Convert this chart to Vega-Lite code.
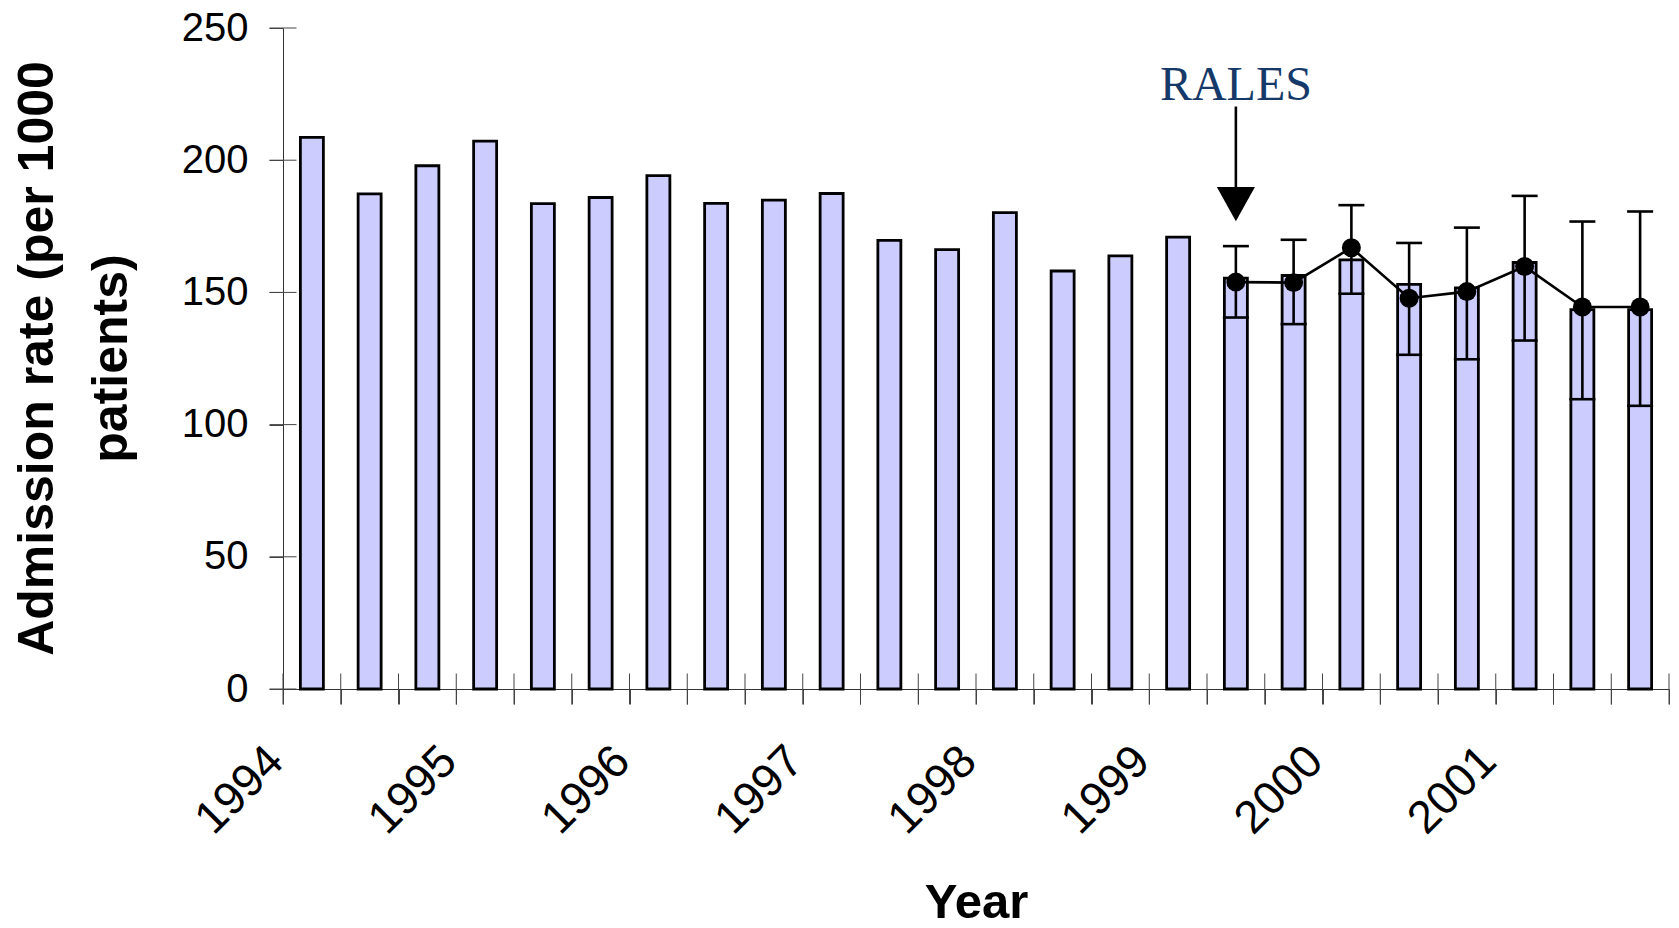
{
  "$schema": "https://vega.github.io/schema/vega-lite/v6.json",
  "width": 1386,
  "height": 661,
  "autosize": {"type": "none"},
  "padding": {"left": 283, "top": 28, "right": 10, "bottom": 239},
  "background": "#ffffff",
  "config": {"view": {"stroke": null}, "font": "Liberation Sans"},
  "datasets": {
    "rates": [
      {"t": 1994.1667, "rate": 208.6},
      {"t": 1994.5, "rate": 187.3},
      {"t": 1994.8333, "rate": 197.9},
      {"t": 1995.1667, "rate": 207.2},
      {"t": 1995.5, "rate": 183.6},
      {"t": 1995.8333, "rate": 185.9},
      {"t": 1996.1667, "rate": 194.2},
      {"t": 1996.5, "rate": 183.7},
      {"t": 1996.8333, "rate": 184.9},
      {"t": 1997.1667, "rate": 187.4},
      {"t": 1997.5, "rate": 169.7},
      {"t": 1997.8333, "rate": 166.2},
      {"t": 1998.1667, "rate": 180.2},
      {"t": 1998.5, "rate": 158.1},
      {"t": 1998.8333, "rate": 163.8},
      {"t": 1999.1667, "rate": 170.9},
      {"t": 1999.5, "rate": 155.4},
      {"t": 1999.8333, "rate": 156.4},
      {"t": 2000.1667, "rate": 162.3},
      {"t": 2000.5, "rate": 153.0},
      {"t": 2000.8333, "rate": 151.7},
      {"t": 2001.1667, "rate": 161.3},
      {"t": 2001.5, "rate": 143.5},
      {"t": 2001.8333, "rate": 143.5}
    ],
    "model": [
      {"t": 1999.5, "est": 153.9, "lo": 140.5, "hi": 167.5},
      {"t": 1999.8333, "est": 153.7, "lo": 138.0, "hi": 169.9},
      {"t": 2000.1667, "est": 166.9, "lo": 149.5, "hi": 183.0},
      {"t": 2000.5, "est": 147.8, "lo": 126.4, "hi": 168.7},
      {"t": 2000.8333, "est": 150.3, "lo": 124.7, "hi": 174.5},
      {"t": 2001.1667, "est": 159.8, "lo": 131.8, "hi": 186.5},
      {"t": 2001.5, "est": 144.5, "lo": 109.6, "hi": 176.8},
      {"t": 2001.8333, "est": 144.5, "lo": 107.1, "hi": 180.6}
    ],
    "yticks": [{"v": 0}, {"v": 50}, {"v": 100}, {"v": 150}, {"v": 200}, {"v": 250}],
    "xticks": [
      {"v": 1994}, {"v": 1994.3333}, {"v": 1994.6667},
      {"v": 1995}, {"v": 1995.3333}, {"v": 1995.6667},
      {"v": 1996}, {"v": 1996.3333}, {"v": 1996.6667},
      {"v": 1997}, {"v": 1997.3333}, {"v": 1997.6667},
      {"v": 1998}, {"v": 1998.3333}, {"v": 1998.6667},
      {"v": 1999}, {"v": 1999.3333}, {"v": 1999.6667},
      {"v": 2000}, {"v": 2000.3333}, {"v": 2000.6667},
      {"v": 2001}, {"v": 2001.3333}, {"v": 2001.6667},
      {"v": 2002}
    ],
    "note": [{"label": "RALES", "t": 1999.5}]
  },
  "layer": [
    {
      "data": {"name": "rates"},
      "mark": {"type": "bar", "orient": "vertical", "width": 23, "fill": "#CCCCFF", "stroke": "#000000", "strokeWidth": 2.8},
      "encoding": {
        "x": {
          "field": "t", "type": "quantitative",
          "scale": {"domain": [1994, 2002], "nice": false, "zero": false, "padding": 0},
          "axis": {
            "values": [1994, 1994.3333, 1994.6667, 1995, 1995.3333, 1995.6667, 1996, 1996.3333, 1996.6667, 1997, 1997.3333, 1997.6667, 1998, 1998.3333, 1998.6667, 1999, 1999.3333, 1999.6667, 2000, 2000.3333, 2000.6667, 2001, 2001.3333, 2001.6667, 2002],
            "labelExpr": "abs(datum.value - round(datum.value)) < 0.01 && datum.value < 2001.5 ? '' + round(datum.value) : ''",
            "labelOverlap": false,
            "labelFlush": false,
            "labelAngle": -45,
            "labelAlign": "right",
            "labelBaseline": "top",
            "labelFontSize": 46,
            "labelColor": "#000000",
            "labelPadding": 34,
            "labelOffset": -23,
            "tickSize": 15,
            "tickColor": "#444444",
            "tickWidth": 1,
            "domainColor": "#333333",
            "domainWidth": 1,
            "grid": false,
            "title": "Year",
            "titleFontSize": 49,
            "titleFontWeight": "bold",
            "titleColor": "#000000",
            "titleX": 693,
            "titleY": 228,
            "titleAlign": "center",
            "titleBaseline": "alphabetic"
          }
        },
        "y": {
          "field": "rate", "type": "quantitative",
          "scale": {"domain": [0, 250], "nice": false},
          "axis": {
            "values": [0, 50, 100, 150, 200, 250],
            "labelFontSize": 40,
            "labelColor": "#000000",
            "labelPadding": 21,
            "tickSize": 14,
            "tickColor": "#444444",
            "tickWidth": 1,
            "domainColor": "#333333",
            "domainWidth": 1,
            "grid": false,
            "title": ["Admission rate (per 1000", "patients)"],
            "titleFontSize": 50,
            "titleFontWeight": "bold",
            "titleColor": "#000000",
            "titleAngle": -90,
            "titleX": -231,
            "titleY": 330,
            "titleAlign": "center",
            "titleBaseline": "alphabetic",
            "titleLineHeight": 74
          }
        }
      }
    },
    {
      "data": {"name": "xticks"},
      "mark": {"type": "tick", "orient": "vertical", "size": 31, "thickness": 1, "color": "#444444", "opacity": 1},
      "encoding": {
        "x": {"field": "v", "type": "quantitative"},
        "y": {"datum": 0, "type": "quantitative"}
      }
    },
    {
      "data": {"name": "yticks"},
      "mark": {"type": "tick", "orient": "horizontal", "size": 27, "thickness": 1, "color": "#444444", "opacity": 1},
      "encoding": {
        "x": {"datum": 1994, "type": "quantitative"},
        "y": {"field": "v", "type": "quantitative"}
      }
    },
    {
      "data": {"name": "model"},
      "mark": {"type": "rule", "color": "#000000", "strokeWidth": 2.6},
      "encoding": {
        "x": {"field": "t", "type": "quantitative"},
        "y": {"field": "lo", "type": "quantitative"},
        "y2": {"field": "hi"}
      }
    },
    {
      "data": {"name": "model"},
      "mark": {"type": "tick", "orient": "horizontal", "size": 26, "thickness": 2.6, "color": "#000000", "opacity": 1},
      "encoding": {
        "x": {"field": "t", "type": "quantitative"},
        "y": {"field": "lo", "type": "quantitative"}
      }
    },
    {
      "data": {"name": "model"},
      "mark": {"type": "tick", "orient": "horizontal", "size": 26, "thickness": 2.6, "color": "#000000", "opacity": 1},
      "encoding": {
        "x": {"field": "t", "type": "quantitative"},
        "y": {"field": "hi", "type": "quantitative"}
      }
    },
    {
      "data": {"name": "model"},
      "mark": {"type": "line", "color": "#000000", "strokeWidth": 2.6},
      "encoding": {
        "x": {"field": "t", "type": "quantitative"},
        "y": {"field": "est", "type": "quantitative"}
      }
    },
    {
      "data": {"name": "model"},
      "mark": {"type": "point", "shape": "circle", "filled": true, "size": 360, "color": "#000000", "opacity": 1},
      "encoding": {
        "x": {"field": "t", "type": "quantitative"},
        "y": {"field": "est", "type": "quantitative"}
      }
    },
    {
      "data": {"name": "note"},
      "mark": {"type": "rule", "color": "#000000", "strokeWidth": 2.6},
      "encoding": {
        "x": {"field": "t", "type": "quantitative"},
        "y": {"datum": 220.3, "type": "quantitative"},
        "y2": {"datum": 188}
      }
    },
    {
      "data": {"name": "note"},
      "mark": {"type": "point", "shape": "M-1,-0.9L1,-0.9L0,0.9Z", "filled": true, "size": 1450, "color": "#000000", "opacity": 1, "strokeWidth": 0},
      "encoding": {
        "x": {"field": "t", "type": "quantitative"},
        "y": {"datum": 183.4, "type": "quantitative"}
      }
    },
    {
      "data": {"name": "note"},
      "mark": {"type": "text", "font": "Liberation Serif", "fontSize": 48, "color": "#153A6A", "align": "center", "baseline": "alphabetic"},
      "encoding": {
        "x": {"field": "t", "type": "quantitative"},
        "y": {"datum": 222.9, "type": "quantitative"},
        "text": {"field": "label"}
      }
    }
  ]
}
